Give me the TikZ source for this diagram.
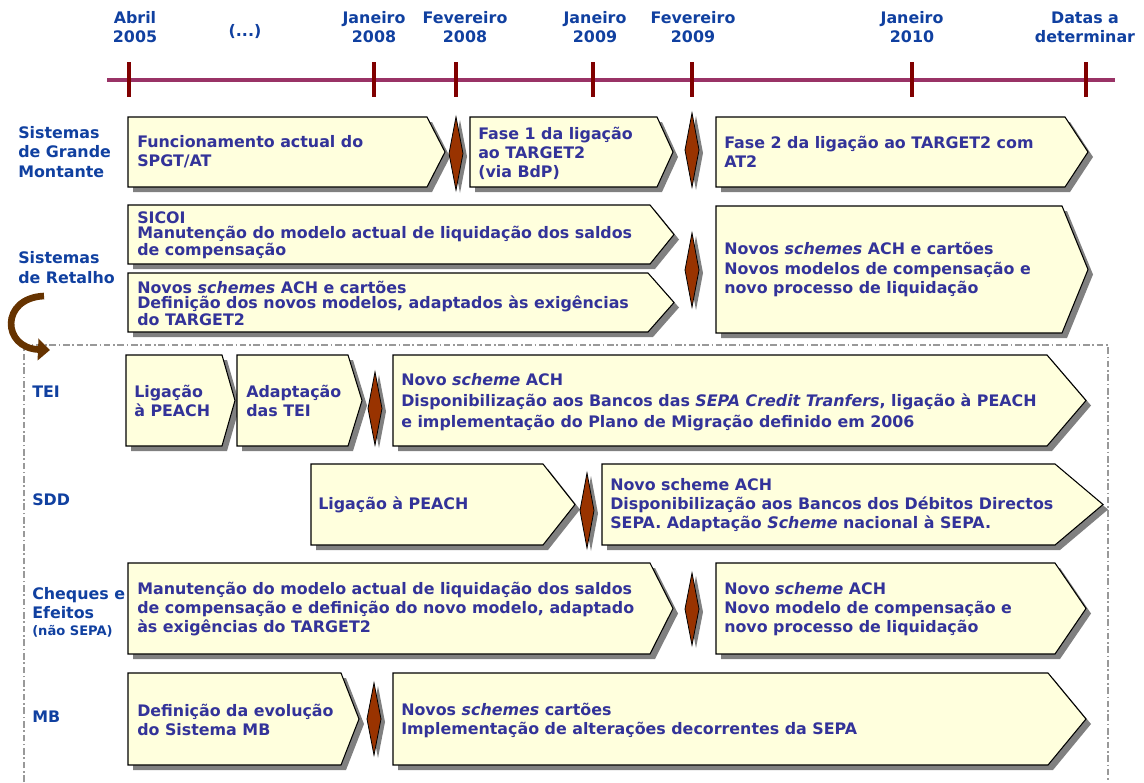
\documentclass[tikz,border=0pt]{standalone}
\usepackage{fontspec}
\setmainfont{DejaVu Sans}
\usetikzlibrary{arrows.meta}

\definecolor{amarelo}{HTML}{FFFFDD}
\definecolor{cinza}{HTML}{808080}
\definecolor{cinzaclaro}{HTML}{999999}
\definecolor{castanho}{HTML}{993300}
\definecolor{castanhoseta}{HTML}{663300}
\definecolor{azultexto}{HTML}{333399}
\definecolor{azulrotulo}{HTML}{1040A0}
\definecolor{linhatempo}{HTML}{993366}
\definecolor{vermelho}{HTML}{800000}

% caixa em seta: x esquerdo, y topo, x canto, x ponta, y base
\newcommand{\caixa}[5]{%
\fill[sombra, shift={(5,5)}] (#1,#2) -- (#3,#2) -- (#4,{(#2+#5)/2}) -- (#3,#5) -- (#1,#5) -- cycle;
\filldraw[caixa] (#1,#2) -- (#3,#2) -- (#4,{(#2+#5)/2}) -- (#3,#5) -- (#1,#5) -- cycle;
}
% losango: x centro, y topo, y base
\newcommand{\losango}[3]{%
\fill[sombra, shift={(4,3)}] (#1,#2) -- (#1+7,{(#2+#3)/2}) -- (#1,#3) -- (#1-7,{(#2+#3)/2}) -- cycle;
\filldraw[marco] (#1,#2) -- (#1+7,{(#2+#3)/2}) -- (#1,#3) -- (#1-7,{(#2+#3)/2}) -- cycle;
}

\begin{document}
\begin{tikzpicture}[x=0.75pt,y=-0.75pt,font=\bfseries\fontsize{11.9}{14.25}\selectfont,
  caixa/.style={draw=black, fill=amarelo, line width=0.8pt},
  sombra/.style={fill=cinza},
  marco/.style={draw=black, fill=castanho, line width=0.6pt},
  texto/.style={anchor=west, align=left, text=azultexto, inner sep=0pt},
  rotulo/.style={anchor=west, align=left, text=azulrotulo, inner sep=0pt},
  data/.style={align=center, text=azulrotulo, inner sep=0pt},
  marca/.style={draw=vermelho, line width=2.3pt},
  seta/.style={draw=castanhoseta, line width=5pt, -{Triangle[length=9pt,width=16pt]}}]
\useasboundingbox (0,0) rectangle (1144,782);
%\draw[help lines] (0,0) grid (1144,782);

% linha do tempo
\draw [linhatempo, line width=2.6pt] (107,80) -- (1115,80);
\foreach \x in {129,374,456,593,692,912,1086}
  \draw [marca] (\x,62) -- (\x,97);
\node (d1) [data] at (135,27.5) {Abril\\2005};
\node (d2) [data] at (245,32) {(...)};
\node (d3) [data] at (374,27.5) {Janeiro\\2008};
\node (d4) [data] at (465,27.5) {Fevereiro\\2008};
\node (d5) [data] at (595,27.5) {Janeiro\\2009};
\node (d6) [data] at (693,27.5) {Fevereiro\\2009};
\node (d7) [data] at (912,27.5) {Janeiro\\2010};
\node (d8) [data] at (1085,27.5) {Datas a\\determinar};

% moldura
\draw [cinzaclaro, line width=1.2pt, dash pattern=on 5pt off 2pt on 1.2pt off 2pt] (24,782) |- (1108,345) -- (1108,782);

% sistemas de grande montante
\node (sgm) [rotulo, font=\bfseries\fontsize{11.9}{14.6}\selectfont] at (18,152) {Sistemas\\de Grande\\Montante};
\caixa{128}{117}{427}{445}{187}
\losango{456}{117}{190}
\caixa{470}{117}{657}{673}{187}
\losango{692}{113}{187}
\caixa{716}{117}{1065}{1088}{187}
\node (sgm1) [texto] at (137,152) {Funcionamento actual do\\SPGT/AT};
\node (sgm2) [texto] at (478,153) {Fase 1 da ligação\\ao TARGET2\\(via BdP)};
\node (sgm3) [texto] at (724,152) {Fase 2 da ligação ao TARGET2 com\\AT2};

% sistemas de retalho
\node (sr) [rotulo, font=\bfseries\fontsize{11.9}{14.6}\selectfont] at (18,267.5) {Sistemas\\de Retalho};
\caixa{128}{205}{650}{674}{264}
\caixa{128}{273}{648}{674}{332}
\losango{692}{233}{307}
\caixa{716}{206}{1062}{1088}{333}
\node (sr1) [texto, font=\bfseries\fontsize{11.9}{11.6}\selectfont] at (137,235) {SICOI\\Manutenção do modelo actual de liquidação dos saldos\\de compensação};
\node (sr2) [texto, font=\bfseries\fontsize{11.9}{11.4}\selectfont] at (137,303) {Novos \textit{schemes} ACH e cartões\\Definição dos novos modelos, adaptados às exigências\\do TARGET2};
\node (sr3) [texto, font=\bfseries\fontsize{11.9}{14.6}\selectfont] at (724,269.5) {Novos \textit{schemes} ACH e cartões\\Novos modelos de compensação e\\novo processo de liquidação};

\coordinate (setaini) at (44,296);
\coordinate (setafim) at (50,350);
\draw [seta] (setaini) .. controls (0,298) and (2,348) .. (setafim);

% TEI
\node (tei) [rotulo] at (32,392) {TEI};
\caixa{126}{355}{222}{235}{446}
\caixa{237}{355}{348}{362}{446}
\losango{375}{372}{445}
\caixa{393}{355}{1047}{1086}{446}
\node (tei1) [texto] at (134,401) {Ligação\\à PEACH};
\node (tei2) [texto] at (246,401) {Adaptação\\das TEI};
\node (tei3) [texto, font=\bfseries\fontsize{11.9}{15.75}\selectfont] at (401,402) {Novo \textit{scheme} ACH\\Disponibilização aos Bancos das \textit{SEPA Credit Tranfers}, ligação à PEACH\\e implementação do Plano de Migração definido em 2006};

% SDD
\node (sdd) [rotulo] at (32,500) {SDD};
\caixa{311}{464}{543}{575}{545}
\losango{587}{473}{548}
\caixa{602}{464}{1055}{1103}{545}
\node (sdd1) [texto] at (318,505) {Ligação à PEACH};
\node (sdd2) [texto] at (610,505) {Novo scheme ACH\\Disponibilização aos Bancos dos Débitos Directos\\SEPA. Adaptação \textit{Scheme} nacional à SEPA.};

% cheques e efeitos
\node (che) [rotulo] at (32,603) {Cheques e\\Efeitos};
\node (che0) [rotulo, font=\bfseries\fontsize{9.8}{11}\selectfont] at (32,631) {(não SEPA)};
\caixa{128}{563}{650}{673}{654}
\losango{692}{573}{645}
\caixa{716}{563}{1055}{1086}{654}
\node (che1) [texto] at (137,609) {Manutenção do modelo actual de liquidação dos saldos\\de compensação e definição do novo modelo, adaptado\\às exigências do TARGET2};
\node (che2) [texto] at (724,609) {Novo \textit{scheme} ACH\\Novo modelo de compensação e\\novo processo de liquidação};

% MB
\node (mb) [rotulo] at (32,717) {MB};
\caixa{128}{673}{341}{359}{765}
\losango{374}{683}{755}
\caixa{393}{673}{1048}{1086}{765}
\node (mb1) [texto] at (137,720) {Definição da evolução\\do Sistema MB};
\node (mb2) [texto] at (401,720) {Novos \textit{schemes} cartões\\Implementação de alterações decorrentes da SEPA};
\end{tikzpicture}
\end{document}
